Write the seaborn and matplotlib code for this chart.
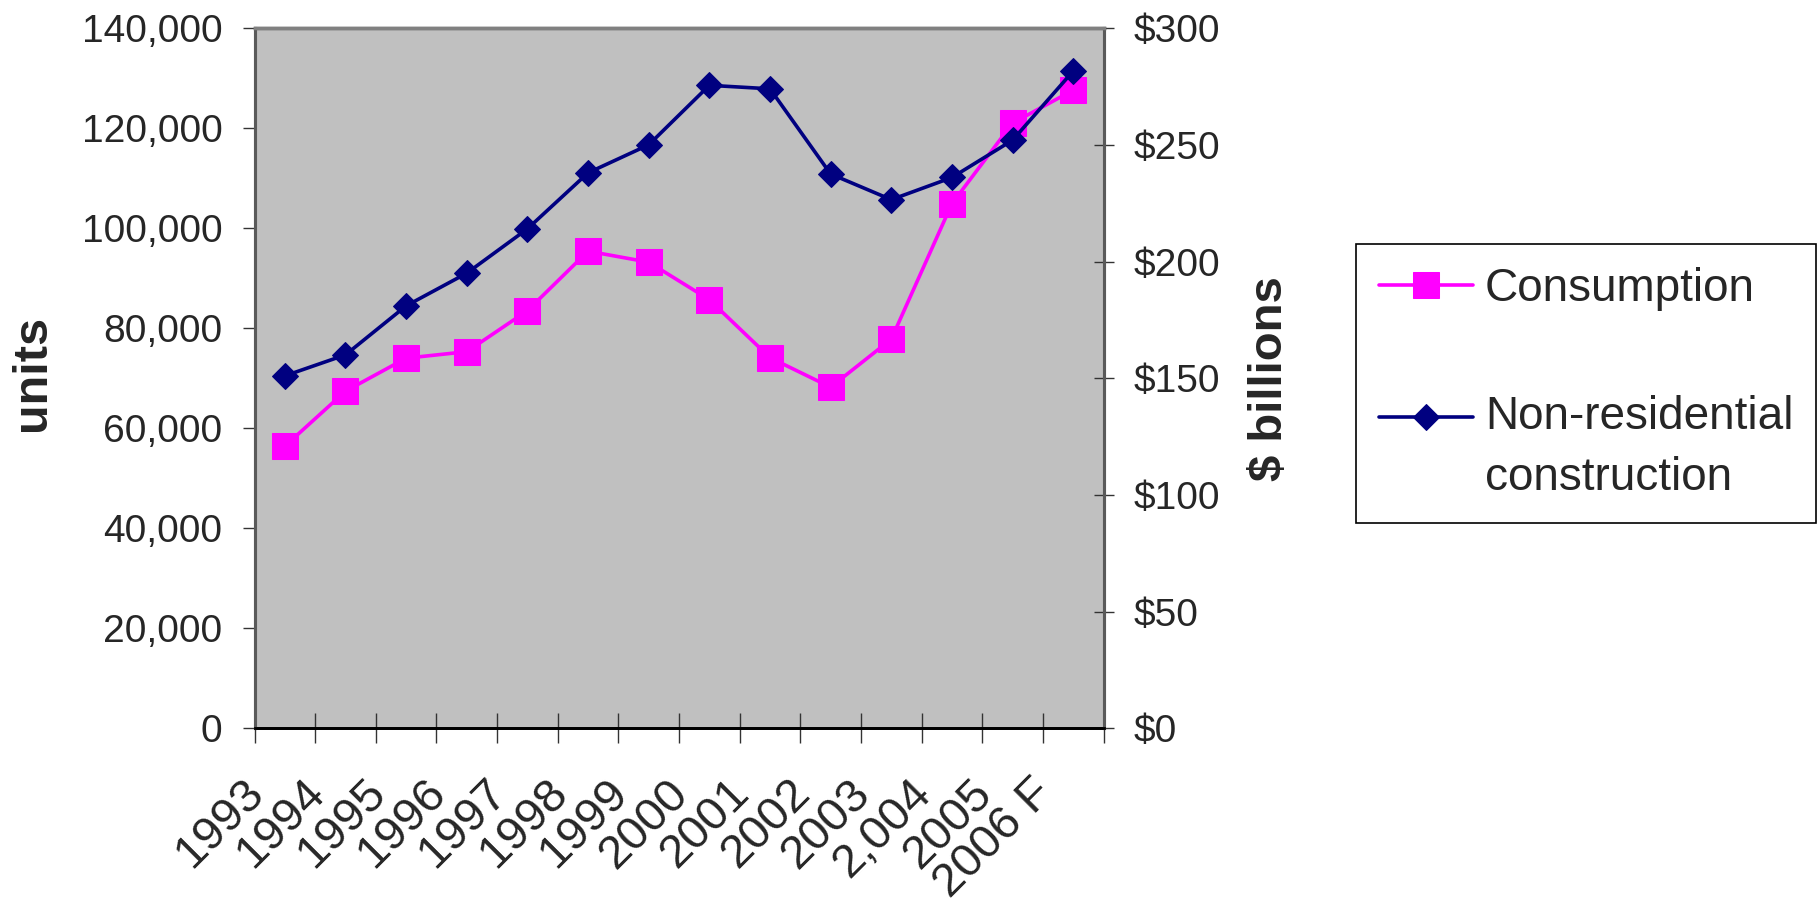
import numpy as np
import pandas as pd
import seaborn as sns
import matplotlib.pyplot as plt
from matplotlib.ticker import FuncFormatter, FixedLocator
from matplotlib.transforms import Affine2D
from matplotlib.legend_handler import HandlerLine2D

years = ['1993', '1994', '1995', '1996', '1997', '1998', '1999', '2000',
         '2001', '2002', '2003', '2,004', '2005', '2006 F']
consumption = [56400, 67400, 74000, 75300, 83500, 95400, 93200, 85700,
               74100, 68200, 77800, 104900, 121000, 127600]
nonres = [151, 160, 181, 195, 214, 238, 250, 275.5,
          274, 237.5, 226.5, 236, 252, 281.6]

df = pd.DataFrame({'idx': np.arange(len(years)), 'year': years,
                   'Consumption': consumption, 'Non-residential': nonres})


class HandlerUp(HandlerLine2D):
    # legend handle lifted to the first line of a two-line label
    def __init__(self, dy, **kw):
        super().__init__(**kw)
        self.dy = dy

    def create_artists(self, legend, orig_handle, xdescent, ydescent,
                       width, height, fontsize, trans):
        arts = super().create_artists(legend, orig_handle, xdescent, ydescent,
                                      width, height, fontsize, trans)
        for a in arts:
            a.set_transform(Affine2D().translate(0, self.dy) + trans)
        return arts


sns.set_style('white')
plt.rcParams['font.family'] = ['Liberation Sans', 'DejaVu Sans']

fig = plt.figure(figsize=(18.18, 9.08), dpi=100)
ax = fig.add_axes([0.140, 0.198, 0.467, 0.771])
ax2 = ax.twinx()

ax.set_facecolor('#c0c0c0')

sns.lineplot(data=df, x='idx', y='Consumption', ax=ax, color='#ff00ff',
             marker='s', markersize=18.5, markeredgecolor='#ff00ff',
             linewidth=2.6, label='Consumption', legend=False)
sns.lineplot(data=df, x='idx', y='Non-residential', ax=ax2, color='#000080',
             marker='D', markersize=13, markeredgecolor='#000080',
             linewidth=2.6, label='Non-residential\nconstruction', legend=False)

ax.set_xlim(-0.5, len(years) - 0.5)
ax.set_ylim(0, 140000)
ax2.set_ylim(0, 300)
ax.set_yticks(np.arange(0, 140001, 20000))
ax2.set_yticks(np.arange(0, 301, 50))
ax.yaxis.set_major_formatter(FuncFormatter(lambda v, p: f'{int(v):,}'))
ax2.yaxis.set_major_formatter(FuncFormatter(lambda v, p: f'${int(v)}'))

# labels sit left of the category centre, like the Excel original
ax.set_xticks(np.arange(len(years)) - 0.45)
ax.set_xticklabels(years, rotation=45, ha='right', va='center',
                   rotation_mode='anchor')
ax.xaxis.set_minor_locator(FixedLocator(np.arange(-0.5, len(years), 1)))
ax.tick_params(axis='x', which='major', length=0, pad=42, labelsize=34)
ax.tick_params(axis='x', which='minor', direction='inout', length=21,
               width=1, color='#333333', bottom=True)
ax.tick_params(axis='y', direction='out', length=9, width=1,
               color='#333333', labelsize=28, pad=14, left=True)
ax2.tick_params(axis='y', direction='inout', length=15, width=1,
                color='#333333', labelsize=28, pad=14, right=True)

ax.set_xlabel('')
ax.set_ylabel('units', fontsize=35, fontweight='bold')
ax.yaxis.set_label_coords(-0.235, 0.507)
ax2.set_ylabel('$ billions', fontsize=34, fontweight='bold', labelpad=20)

for a in (ax, ax2):
    a.spines['top'].set_color('#808080')
    a.spines['top'].set_linewidth(2.5)
    a.spines['left'].set_color('#5a5a5a')
    a.spines['left'].set_linewidth(2.2)
    a.spines['right'].set_color('#5a5a5a')
    a.spines['right'].set_linewidth(2.2)
    a.spines['bottom'].set_color('black')
    a.spines['bottom'].set_linewidth(2)
    a.grid(False)

h1, l1 = ax.get_legend_handles_labels()
h2, l2 = ax2.get_legend_handles_labels()
leg = fig.legend(h1 + h2, l1 + l2, loc='upper left',
                 bbox_to_anchor=(0.746, 0.731),
                 frameon=True, fancybox=False, edgecolor='black', fontsize=33,
                 borderaxespad=0, handlelength=2.05, handletextpad=0.26,
                 labelspacing=1.83, borderpad=0.5, framealpha=1,
                 handler_map={h2[0]: HandlerUp(23)})
leg.get_frame().set_linewidth(1.2)
for t in leg.get_texts():
    t.set_linespacing(1.5)

fig.savefig('out.png', dpi=100)
